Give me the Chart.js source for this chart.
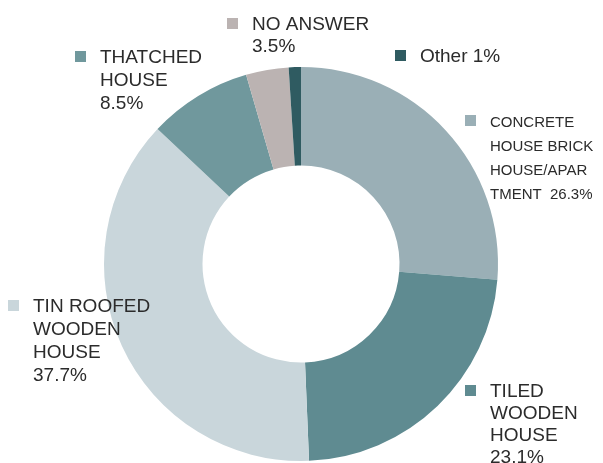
<!DOCTYPE html>
<html>
<head>
<meta charset="utf-8">
<script src="https://cdn.jsdelivr.net/npm/chart.js@4"></script>
<style>
  body { margin: 0; background: #fff; }
  #grafica { display: block; }
</style>
</head>
<body>
<canvas id="grafica" width="603" height="463"></canvas>
<script>
const categorias = ["CONCRETE HOUSE BRICK HOUSE/APARTMENT", "TILED WOODEN HOUSE", "TIN ROOFED WOODEN HOUSE", "THATCHED HOUSE", "NO ANSWER", "Other"];
const porcentajes = [26.3, 23.1, 37.7, 8.5, 3.5, 1];
const colores = ["#9aafb6", "#5f8b91", "#c9d6db", "#70989d", "#bbb3b2", "#2f5b61"];

// texto de cada etiqueta, una linea por elemento
const etiquetas = [
    ["CONCRETE", "HOUSE BRICK", "HOUSE/APAR", "TMENT  26.3%"],
    ["TILED", "WOODEN", "HOUSE", "23.1%"],
    ["TIN ROOFED", "WOODEN", "HOUSE", "37.7%"],
    ["THATCHED", "HOUSE", "8.5%"],
    ["NO ANSWER", "3.5%"],
    ["Other 1%"]
];

// donde va cada etiqueta: x del texto, linea base de la primera linea, salto, tamaño de letra
const posEtiquetas = [
    { x: 490, y: 127, salto: 24, size: 15 },
    { x: 490, y: 397, salto: 22, size: 19 },
    { x: 33, y: 312, salto: 23, size: 19 },
    { x: 100, y: 63, salto: 23, size: 19 },
    { x: 252, y: 30, salto: 22, size: 19 },
    { x: 420, y: 62, salto: 22, size: 19 }
];

const pluginEtiquetas = {
    id: 'etiquetas',
    afterDraw(chart) {
        const ctx = chart.ctx;
        ctx.save();
        ctx.textBaseline = 'alphabetic';
        etiquetas.forEach((lineas, i) => {
            const p = posEtiquetas[i];
            ctx.fillStyle = colores[i];
            ctx.fillRect(p.x - 25, p.y - 12, 11, 11);
            ctx.fillStyle = '#2b2b2b';
            ctx.font = p.size + 'px "Liberation Sans", Arial, sans-serif';
            lineas.forEach((t, j) => ctx.fillText(t, p.x, p.y + j * p.salto));
        });
        ctx.restore();
    }
};

new Chart(document.querySelector("#grafica"), {
    type: 'doughnut',
    data: {
        labels: categorias,
        datasets: [{
            data: porcentajes,
            backgroundColor: colores,
            borderWidth: 0
        }]
    },
    options: {
        responsive: false,
        animation: false,
        cutout: '50%',
        layout: { padding: { top: 67, bottom: 2, left: 0, right: 1 } },
        plugins: {
            legend: { display: false },
            tooltip: { enabled: false }
        }
    },
    plugins: [pluginEtiquetas]
});
</script>
</body>
</html>
